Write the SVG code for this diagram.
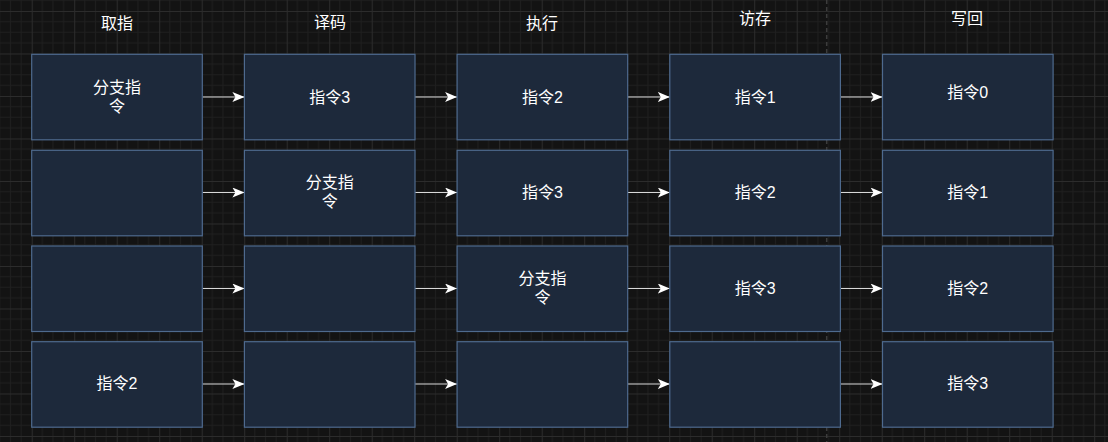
<svg xmlns="http://www.w3.org/2000/svg" width="1108" height="442" viewBox="0 0 1108 442">
  <style>
    .box { fill: #1d293b; stroke: #4e6a8e; stroke-width: 1.2; }
    .t { font-family: "Liberation Sans", "Noto Sans CJK SC", sans-serif; font-size: 16px; fill: #ffffff; text-anchor: middle; dominant-baseline: central; }
    .title { font-family: "Liberation Sans", "Noto Sans CJK SC", sans-serif; font-size: 16px; fill: #ffffff; text-anchor: middle; dominant-baseline: central; }
    .conn { stroke: #d8d8d8; stroke-width: 1.2; fill: none; marker-end: url(#arrow); }
  </style>
  <defs>
    <pattern id="grid" x="31.7" y="11" width="42.5" height="42.5" patternUnits="userSpaceOnUse">
      <path d="M10.625 0V42.5M21.25 0V42.5M31.875 0V42.5M0 10.625H42.5M0 21.25H42.5M0 31.875H42.5" stroke="#1f1f1f" stroke-width="1" fill="none"/>
      <path d="M0.5 0V42.5M0 0.5H42.5" stroke="#2c2c2c" stroke-width="1" fill="none"/>
    </pattern>
    <marker id="arrow" viewBox="0 0 12 10" refX="12" refY="5" markerWidth="12" markerHeight="10" markerUnits="userSpaceOnUse" orient="auto">
      <path d="M0,0 L12,5 L0,10 L3,5 Z" fill="#ffffff"/>
    </marker>
  </defs>
  <rect x="0" y="0" width="1108" height="442" fill="#131313"/>
  <rect x="0" y="0" width="1108" height="442" fill="url(#grid)"/>
  <line x1="826.7" y1="0" x2="826.7" y2="442" stroke="#3c3c3c" stroke-width="1.5" stroke-dasharray="4 3"/>

  <g id="titles">
    <text class="title" x="117" y="23">取指</text>
    <text class="title" x="330" y="22.5">译码</text>
    <text class="title" x="542" y="23.5">执行</text>
    <text class="title" x="755" y="18">访存</text>
    <text class="title" x="967" y="18">写回</text>
  </g>

  <g id="connectors">
    <path class="conn" d="M202.3 97H244.4"/>
    <path class="conn" d="M415 97H457.1"/>
    <path class="conn" d="M627.7 97H669.8"/>
    <path class="conn" d="M840.4 97H882.5"/>
    <path class="conn" d="M202.3 192.5H244.4"/>
    <path class="conn" d="M415 192.5H457.1"/>
    <path class="conn" d="M627.7 192.5H669.8"/>
    <path class="conn" d="M840.4 192.5H882.5"/>
    <path class="conn" d="M202.3 288.5H244.4"/>
    <path class="conn" d="M415 288.5H457.1"/>
    <path class="conn" d="M627.7 288.5H669.8"/>
    <path class="conn" d="M840.4 288.5H882.5"/>
    <path class="conn" d="M202.3 384H244.4"/>
    <path class="conn" d="M415 384H457.1"/>
    <path class="conn" d="M627.7 384H669.8"/>
    <path class="conn" d="M840.4 384H882.5"/>
  </g>

  <!-- Row 1 -->
  <g id="r1c1"><rect class="box" x="31.7" y="54.3" width="170.6" height="85.5"/><text class="t" x="117" y="87.5">分支指</text><text class="t" x="117" y="106.5">令</text></g>
  <g id="r1c2"><rect class="box" x="244.4" y="54.3" width="170.6" height="85.5"/><text class="t" x="329.7" y="97">指令3</text></g>
  <g id="r1c3"><rect class="box" x="457.1" y="54.3" width="170.6" height="85.5"/><text class="t" x="542.4" y="97">指令2</text></g>
  <g id="r1c4"><rect class="box" x="669.8" y="54.3" width="170.6" height="85.5"/><text class="t" x="755.1" y="97">指令1</text></g>
  <g id="r1c5"><rect class="box" x="882.5" y="54.3" width="170.6" height="85.5"/><text class="t" x="967.8" y="92">指令0</text></g>

  <!-- Row 2 -->
  <g id="r2c1"><rect class="box" x="31.7" y="150.3" width="170.6" height="85.5"/></g>
  <g id="r2c2"><rect class="box" x="244.4" y="150.3" width="170.6" height="85.5"/><text class="t" x="329.7" y="182.5">分支指</text><text class="t" x="329.7" y="201.5">令</text></g>
  <g id="r2c3"><rect class="box" x="457.1" y="150.3" width="170.6" height="85.5"/><text class="t" x="542.4" y="192.5">指令3</text></g>
  <g id="r2c4"><rect class="box" x="669.8" y="150.3" width="170.6" height="85.5"/><text class="t" x="755.1" y="192.5">指令2</text></g>
  <g id="r2c5"><rect class="box" x="882.5" y="150.3" width="170.6" height="85.5"/><text class="t" x="967.8" y="192.5">指令1</text></g>

  <!-- Row 3 -->
  <g id="r3c1"><rect class="box" x="31.7" y="246" width="170.6" height="85.5"/></g>
  <g id="r3c2"><rect class="box" x="244.4" y="246" width="170.6" height="85.5"/></g>
  <g id="r3c3"><rect class="box" x="457.1" y="246" width="170.6" height="85.5"/><text class="t" x="542.4" y="278.5">分支指</text><text class="t" x="542.4" y="297.5">令</text></g>
  <g id="r3c4"><rect class="box" x="669.8" y="246" width="170.6" height="85.5"/><text class="t" x="755.1" y="288.5">指令3</text></g>
  <g id="r3c5"><rect class="box" x="882.5" y="246" width="170.6" height="85.5"/><text class="t" x="967.8" y="288.5">指令2</text></g>

  <!-- Row 4 -->
  <g id="r4c1"><rect class="box" x="31.7" y="341.7" width="170.6" height="85.5"/><text class="t" x="117" y="383.5">指令2</text></g>
  <g id="r4c2"><rect class="box" x="244.4" y="341.7" width="170.6" height="85.5"/></g>
  <g id="r4c3"><rect class="box" x="457.1" y="341.7" width="170.6" height="85.5"/></g>
  <g id="r4c4"><rect class="box" x="669.8" y="341.7" width="170.6" height="85.5"/></g>
  <g id="r4c5"><rect class="box" x="882.5" y="341.7" width="170.6" height="85.5"/><text class="t" x="967.8" y="383.5">指令3</text></g>
</svg>
